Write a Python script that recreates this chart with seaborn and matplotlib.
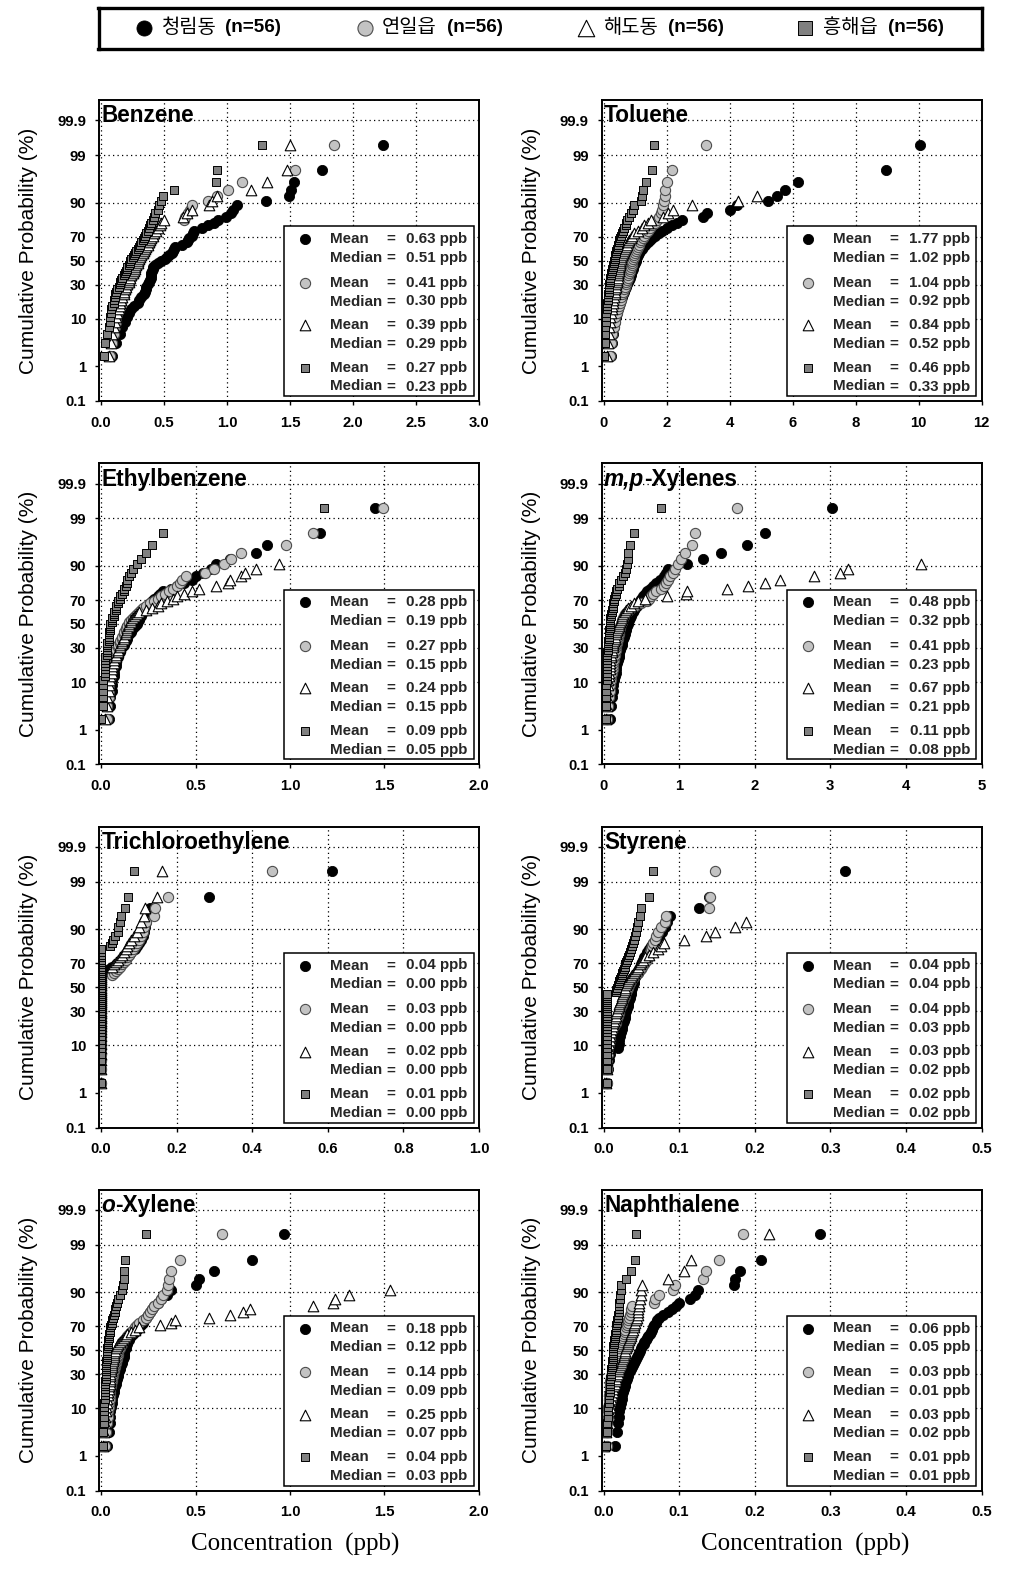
import numpy as np
import matplotlib
matplotlib.use("Agg")
import matplotlib.pyplot as plt
import matplotlib.transforms as mtransforms
from matplotlib.patches import Rectangle
from matplotlib.ticker import NullLocator
from matplotlib import font_manager
import seaborn as sns
from statistics import NormalDist

nan = float("nan")

# ---------------------------------------------------------------- data
SITES = ["청림동", "연일읍", "해도동", "흥해읍"]
N_LABELS = ["(n=56)", "(n=56)", "(n=56)", "(n=56)"]
N = 56

BENZENE_CHEONGNIM = [0.09,0.12,0.15,0.17,0.19,0.21,0.22,0.24,0.26,0.29,
    0.30,0.32,0.34,0.35,0.355,0.36,0.37,0.38,0.39,0.395,
    0.40,0.40,0.405,0.41,0.415,0.43,0.45,0.48,0.51,0.52,
    0.54,0.56,0.57,0.58,0.59,0.64,0.68,0.69,0.70,0.72,
    0.73,0.74,0.80,0.85,0.90,0.93,0.99,1.03,1.05,1.08,
    1.31,1.49,1.51,1.53,1.75,2.24]
BENZENE_YEONIL = [0.07,0.09,0.10,0.11,0.12,0.12,0.13,0.14,0.15,0.16,
    0.16,0.17,0.18,0.19,0.20,0.21,0.22,0.22,0.23,0.24,
    0.25,0.26,0.26,0.27,0.28,0.29,0.29,0.30,0.31,0.32,
    0.33,0.34,0.35,0.36,0.37,0.38,0.39,0.40,0.41,0.42,
    0.43,0.44,0.45,0.46,0.47,0.66,0.67,0.69,0.71,0.72,
    0.85,0.92,1.01,1.12,1.54,1.85]
BENZENE_HAEDO = [0.06,0.08,0.09,0.10,0.11,0.12,0.13,0.14,0.15,0.15,
    0.16,0.17,0.18,0.18,0.19,0.20,0.21,0.22,0.22,0.23,
    0.24,0.25,0.26,0.27,0.27,0.28,0.29,0.29,0.30,0.31,
    0.32,0.33,0.34,0.35,0.36,0.37,0.38,0.39,0.40,0.41,
    0.42,0.44,0.45,0.47,0.48,0.50,0.65,0.68,0.72,0.86,
    0.88,0.92,1.19,1.32,1.48,1.50]
BENZENE_HEUNGHAE = [0.02,0.03,0.05,0.06,0.07,0.07,0.08,0.08,0.09,0.10,
    0.10,0.11,0.11,0.12,0.13,0.14,0.15,0.15,0.16,0.17,
    0.18,0.19,0.20,0.21,0.21,0.22,0.23,0.23,0.24,0.25,
    0.26,0.27,0.28,0.29,0.30,0.31,0.32,0.33,0.34,0.35,
    0.36,0.37,0.38,0.39,0.40,0.41,0.42,0.43,0.45,0.46,
    0.48,0.49,0.58,0.91,0.92,1.28]

TOLUENE_CHEONGNIM = [0.23,0.26,0.30,0.33,0.36,0.40,0.43,0.46,0.50,0.53,
    0.56,0.60,0.63,0.66,0.69,0.72,0.75,0.78,0.80,0.83,
    0.86,0.88,0.91,0.93,0.95,0.97,1.00,1.02,1.04,1.07,
    1.10,1.13,1.17,1.21,1.26,1.32,1.40,1.48,1.55,1.65,
    1.76,1.86,2.02,2.18,2.34,2.49,3.15,3.30,4.02,4.25,
    5.23,5.50,5.75,6.19,8.96,10.04]
TOLUENE_YEONIL = [0.20,0.23,0.28,0.32,0.35,0.38,0.42,0.45,0.48,0.51,
    0.54,0.57,0.60,0.63,0.66,0.69,0.71,0.73,0.75,0.77,
    0.79,0.81,0.83,0.85,0.87,0.89,0.91,0.92,0.94,0.96,
    0.98,1.00,1.03,1.06,1.09,1.12,1.16,1.20,1.25,1.30,
    1.36,1.42,1.48,1.55,1.62,1.70,1.76,1.81,1.86,1.89,
    1.92,1.94,1.95,2.02,2.16,3.26]
TOLUENE_HAEDO = [0.10,0.13,0.16,0.18,0.20,0.22,0.24,0.26,0.28,0.30,
    0.31,0.33,0.35,0.36,0.38,0.39,0.41,0.42,0.44,0.45,
    0.46,0.47,0.48,0.49,0.50,0.51,0.52,0.53,0.55,0.57,
    0.59,0.61,0.64,0.67,0.70,0.74,0.78,0.82,0.87,0.92,
    0.98,1.10,1.22,1.30,1.42,1.50,1.90,2.04,2.20,2.81,
    4.26,4.88,nan,nan,nan,nan]
TOLUENE_HEUNGHAE = [0.03,0.04,0.05,0.06,0.07,0.08,0.09,0.10,0.11,0.12,
    0.13,0.14,0.15,0.16,0.17,0.18,0.19,0.20,0.21,0.22,
    0.24,0.25,0.26,0.27,0.29,0.30,0.32,0.33,0.35,0.36,
    0.38,0.40,0.41,0.43,0.45,0.46,0.48,0.50,0.52,0.55,
    0.58,0.62,0.66,0.70,0.72,0.75,0.80,0.87,0.93,0.96,
    1.19,1.22,1.24,1.35,1.54,1.61]

ETHYL_CHEONGNIM = [0.04,0.05,0.05,0.06,0.06,0.06,0.07,0.07,0.07,0.08,
    0.08,0.08,0.09,0.09,0.10,0.10,0.11,0.12,0.12,0.13,
    0.14,0.14,0.15,0.16,0.16,0.17,0.18,0.19,0.19,0.20,
    0.20,0.21,0.21,0.22,0.23,0.24,0.25,0.26,0.27,0.28,
    0.30,0.31,0.33,0.37,0.40,0.44,0.48,0.50,0.54,0.58,
    0.61,0.68,0.82,0.88,1.16,1.45]
ETHYL_YEONIL = [0.03,0.03,0.04,0.04,0.04,0.05,0.05,0.05,0.06,0.06,
    0.06,0.07,0.07,0.07,0.08,0.08,0.09,0.09,0.10,0.10,
    0.11,0.11,0.12,0.12,0.13,0.13,0.14,0.15,0.15,0.16,
    0.17,0.18,0.19,0.20,0.21,0.22,0.24,0.26,0.28,0.30,
    0.32,0.34,0.36,0.38,0.40,0.42,0.43,0.45,0.55,0.60,
    0.65,0.69,0.74,0.98,1.12,1.49]
ETHYL_HAEDO = [0.02,0.03,0.03,0.04,0.04,0.05,0.05,0.06,0.06,0.06,
    0.07,0.07,0.08,0.08,0.09,0.09,0.10,0.10,0.11,0.11,
    0.12,0.12,0.13,0.13,0.14,0.14,0.15,0.15,0.16,0.16,
    0.17,0.18,0.19,0.20,0.24,0.27,0.30,0.32,0.35,0.38,
    0.40,0.44,0.48,0.52,0.61,0.67,0.68,0.74,0.76,0.82,
    0.94,nan,nan,nan,nan,nan]
ETHYL_HEUNGHAE = [0.00,0.01,0.01,0.01,0.01,0.01,0.02,0.02,0.02,0.02,
    0.02,0.02,0.02,0.03,0.03,0.03,0.03,0.03,0.03,0.04,
    0.04,0.04,0.04,0.04,0.05,0.05,0.05,0.05,0.06,0.06,
    0.06,0.07,0.07,0.07,0.08,0.08,0.08,0.09,0.09,0.10,
    0.10,0.11,0.12,0.12,0.13,0.14,0.14,0.15,0.16,0.17,
    0.19,0.21,0.24,0.27,0.33,1.18]

MPX_CHEONGNIM = [0.09,0.10,0.11,0.12,0.13,0.14,0.15,0.16,0.17,0.17,
    0.18,0.19,0.20,0.21,0.21,0.22,0.23,0.24,0.25,0.25,
    0.26,0.27,0.28,0.29,0.30,0.30,0.31,0.32,0.33,0.34,
    0.35,0.36,0.37,0.39,0.40,0.42,0.44,0.46,0.48,0.50,
    0.52,0.55,0.58,0.62,0.66,0.70,0.75,0.80,0.83,0.85,
    1.11,1.32,1.56,1.90,2.13,3.02]
MPX_YEONIL = [0.05,0.06,0.07,0.08,0.09,0.10,0.10,0.11,0.12,0.12,
    0.13,0.14,0.14,0.15,0.15,0.16,0.16,0.17,0.18,0.18,
    0.19,0.19,0.20,0.21,0.21,0.22,0.22,0.23,0.24,0.25,
    0.26,0.27,0.29,0.31,0.34,0.37,0.42,0.50,0.58,0.60,
    0.63,0.66,0.70,0.76,0.80,0.83,0.85,0.88,0.92,0.95,
    0.99,1.03,1.08,1.17,1.21,1.76]
MPX_HAEDO = [0.03,0.04,0.05,0.05,0.06,0.06,0.07,0.07,0.08,0.08,
    0.09,0.09,0.10,0.10,0.11,0.11,0.12,0.13,0.13,0.14,
    0.15,0.15,0.16,0.17,0.18,0.19,0.20,0.21,0.22,0.23,
    0.24,0.25,0.26,0.28,0.30,0.33,0.36,0.40,0.45,0.55,
    0.84,1.09,1.10,1.63,1.91,2.14,2.34,2.79,3.13,3.24,
    4.20,nan,nan,nan,nan,nan]
MPX_HEUNGHAE = [0.03,0.03,0.03,0.03,0.03,0.04,0.04,0.04,0.04,0.04,
    0.05,0.05,0.05,0.05,0.05,0.06,0.06,0.06,0.06,0.06,
    0.07,0.07,0.07,0.07,0.07,0.08,0.08,0.08,0.08,0.09,
    0.09,0.10,0.10,0.11,0.11,0.12,0.12,0.13,0.14,0.14,
    0.15,0.16,0.17,0.18,0.20,0.21,0.23,0.26,0.28,0.30,
    0.31,0.32,0.33,0.35,0.41,0.76]

TCE_CHEONGNIM = [0.0,0.0,0.0,0.0,0.0,0.0,0.0,0.0,0.0,0.0,
    0.0,0.0,0.0,0.0,0.0,0.0,0.0,0.0,0.0,0.0,
    0.0,0.0,0.0,0.0,0.0,0.0,0.0,0.0,0.0,0.0,
    0.0,0.0,0.0,0.0,0.0,0.01,0.02,0.03,0.04,0.05,
    0.06,0.07,0.075,0.08,0.09,0.095,0.10,0.105,0.11,0.113,
    0.117,0.12,0.125,0.13,0.286,0.61]
TCE_YEONIL = [0.0,0.0,0.0,0.0,0.0,0.0,0.0,0.0,0.0,0.0,
    0.0,0.0,0.0,0.0,0.0,0.0,0.0,0.0,0.0,0.0,
    0.0,0.0,0.0,0.0,0.0,0.0,0.0,0.0,0.0,0.0,
    0.0,0.0,0.0,0.03,0.035,0.04,0.045,0.05,0.055,0.06,
    0.065,0.07,0.075,0.08,0.085,0.09,0.095,0.10,0.105,0.11,
    0.115,0.12,0.14,0.144,0.178,0.453]
TCE_HAEDO = [0.0,0.0,0.0,0.0,0.0,0.0,0.0,0.0,0.0,0.0,
    0.0,0.0,0.0,0.0,0.0,0.0,0.0,0.0,0.0,0.0,
    0.0,0.0,0.0,0.0,0.0,0.0,0.0,0.0,0.0,0.0,
    0.0,0.0,0.0,0.0,0.0,0.0,0.0,0.03,0.035,0.04,
    0.045,0.05,0.055,0.06,0.065,0.07,0.075,0.08,0.088,0.095,
    0.10,0.106,0.113,0.116,0.148,0.162]
TCE_HEUNGHAE = [0.0,0.0,0.0,0.0,0.0,0.0,0.0,0.0,0.0,0.0,
    0.0,0.0,0.0,0.0,0.0,0.0,0.0,0.0,0.0,0.0,
    0.0,0.0,0.0,0.0,0.0,0.0,0.0,0.0,0.0,0.0,
    0.0,0.0,0.0,0.0,0.0,0.0,0.0,0.0,0.0,0.0,
    0.0,0.0,0.0,0.0,0.0,0.024,0.028,0.033,0.037,0.044,
    0.046,0.05,0.053,0.064,0.071,0.086]

STYRENE_CHEONGNIM = [0.005,0.006,0.007,0.008,0.019,0.020,0.021,0.022,0.023,0.025,
    0.025,0.026,0.027,0.028,0.028,0.029,0.030,0.031,0.032,0.033,
    0.033,0.034,0.035,0.035,0.036,0.037,0.037,0.038,0.039,0.040,
    0.041,0.041,0.042,0.043,0.045,0.046,0.047,0.048,0.049,0.051,
    0.052,0.054,0.056,0.058,0.060,0.063,0.066,0.070,0.074,0.077,
    0.081,0.084,0.088,0.126,0.140,0.32]
STYRENE_YEONIL = [0.004,0.005,0.005,0.006,0.006,0.007,0.008,0.009,0.010,0.012,
    0.014,0.016,0.017,0.018,0.019,0.020,0.021,0.022,0.023,0.024,
    0.025,0.026,0.027,0.028,0.029,0.030,0.031,0.032,0.034,0.035,
    0.037,0.038,0.040,0.042,0.045,0.047,0.049,0.051,0.053,0.055,
    0.057,0.059,0.060,0.062,0.063,0.064,0.066,0.068,0.070,0.072,
    0.076,0.081,0.083,0.140,0.141,0.147]
STYRENE_HAEDO = [0.003,0.004,0.005,0.005,0.006,0.007,0.008,0.009,0.010,0.011,
    0.012,0.013,0.014,0.015,0.016,0.017,0.018,0.019,0.020,0.021,
    0.022,0.023,0.024,0.025,0.026,0.027,0.028,0.029,0.030,0.031,
    0.032,0.034,0.036,0.038,0.040,0.042,0.044,0.046,0.048,0.050,
    0.052,0.055,0.060,0.066,0.072,0.076,0.080,0.107,0.135,0.147,
    0.174,0.188,nan,nan,nan,nan]
STYRENE_HEUNGHAE = [0.004,0.005,0.005,0.005,0.005,0.005,0.005,0.005,0.005,0.005,
    0.005,0.005,0.005,0.005,0.005,0.005,0.005,0.005,0.005,0.005,
    0.005,0.005,0.005,0.005,0.005,0.016,0.017,0.018,0.019,0.020,
    0.021,0.022,0.023,0.024,0.025,0.026,0.027,0.028,0.029,0.030,
    0.031,0.032,0.034,0.035,0.036,0.038,0.039,0.041,0.042,0.043,
    0.044,0.045,0.048,0.050,0.060,0.065]

OXY_CHEONGNIM = [0.03,0.04,0.045,0.05,0.05,0.055,0.06,0.06,0.065,0.07,
    0.07,0.075,0.08,0.08,0.085,0.09,0.09,0.095,0.10,0.10,
    0.105,0.11,0.11,0.115,0.12,0.12,0.12,0.12,0.13,0.13,
    0.14,0.14,0.15,0.15,0.16,0.17,0.18,0.19,0.20,0.21,
    0.22,0.23,0.24,0.25,0.26,0.27,0.28,0.30,0.32,0.35,
    0.37,0.50,0.52,0.60,0.80,0.97]
OXY_YEONIL = [0.02,0.025,0.03,0.035,0.035,0.04,0.04,0.045,0.045,0.05,
    0.05,0.055,0.055,0.06,0.06,0.065,0.065,0.07,0.07,0.075,
    0.075,0.08,0.08,0.085,0.085,0.09,0.09,0.09,0.10,0.10,
    0.11,0.11,0.12,0.13,0.14,0.15,0.16,0.17,0.18,0.19,
    0.20,0.22,0.24,0.25,0.26,0.27,0.28,0.30,0.32,0.33,
    0.35,0.355,0.36,0.37,0.42,0.64]
OXY_HAEDO = [0.01,0.015,0.02,0.02,0.025,0.025,0.03,0.03,0.035,0.035,
    0.04,0.04,0.045,0.045,0.05,0.05,0.05,0.055,0.055,0.06,
    0.06,0.06,0.065,0.065,0.07,0.07,0.07,0.075,0.08,0.085,
    0.09,0.10,0.11,0.12,0.13,0.14,0.16,0.18,0.20,0.31,
    0.37,0.39,0.57,0.68,0.75,0.79,1.12,1.23,1.24,1.31,
    1.53,nan,nan,nan,nan,nan]
OXY_HEUNGHAE = [0.01,0.012,0.014,0.015,0.016,0.017,0.018,0.019,0.02,0.02,
    0.021,0.022,0.022,0.023,0.024,0.024,0.025,0.026,0.026,0.027,
    0.028,0.028,0.029,0.03,0.03,0.031,0.032,0.033,0.034,0.035,
    0.036,0.037,0.038,0.04,0.042,0.044,0.046,0.048,0.05,0.053,
    0.056,0.06,0.064,0.068,0.072,0.076,0.08,0.084,0.092,0.10,
    0.11,0.114,0.123,0.124,0.128,0.238]

NAPH_CHEONGNIM = [0.015,0.018,0.019,0.020,0.021,0.022,0.023,0.024,0.025,0.026,
    0.027,0.028,0.029,0.030,0.031,0.032,0.033,0.035,0.036,0.038,
    0.039,0.040,0.042,0.043,0.044,0.046,0.047,0.048,0.050,0.051,
    0.053,0.054,0.056,0.058,0.059,0.061,0.063,0.064,0.066,0.067,
    0.069,0.071,0.073,0.079,0.085,0.090,0.096,0.100,0.114,0.121,
    0.125,0.172,0.174,0.181,0.208,0.286]
NAPH_YEONIL = [0.004,0.005,0.005,0.006,0.006,0.006,0.007,0.007,0.007,0.008,
    0.008,0.008,0.009,0.009,0.010,0.010,0.011,0.011,0.012,0.013,
    0.014,0.015,0.016,0.016,0.017,0.018,0.019,0.020,0.021,0.021,
    0.022,0.023,0.024,0.025,0.026,0.027,0.028,0.029,0.030,0.031,
    0.032,0.033,0.034,0.035,0.036,0.037,0.038,0.067,0.068,0.074,
    0.092,0.095,0.132,0.135,0.153,0.184]
NAPH_HAEDO = [0.000,0.003,0.005,0.006,0.007,0.008,0.009,0.010,0.011,0.012,
    0.013,0.014,0.015,0.016,0.017,0.018,0.019,0.020,0.021,0.022,
    0.023,0.024,0.025,0.026,0.027,0.027,0.028,0.029,0.030,0.031,
    0.032,0.033,0.034,0.035,0.036,0.037,0.038,0.039,0.040,0.041,
    0.042,0.043,0.044,0.045,0.046,0.046,0.047,0.047,0.048,0.049,
    0.050,0.051,0.085,0.107,0.116,0.219]
NAPH_HEUNGHAE = [0.003,0.005,0.005,0.006,0.006,0.006,0.007,0.007,0.007,0.008,
    0.008,0.008,0.009,0.009,0.009,0.010,0.010,0.010,0.010,0.011,
    0.011,0.011,0.011,0.012,0.012,0.012,0.012,0.013,0.013,0.013,
    0.014,0.014,0.014,0.015,0.015,0.015,0.016,0.016,0.017,0.017,
    0.018,0.018,0.019,0.019,0.020,0.020,0.021,0.021,0.022,0.022,
    0.023,0.023,0.030,0.037,0.042,0.043]

# stated summary statistics (as printed in the panel boxes)
BENZENE_MEAN, BENZENE_MEDIAN = [0.63, 0.41, 0.39, 0.27], [0.51, 0.30, 0.29, 0.23]
TOLUENE_MEAN, TOLUENE_MEDIAN = [1.77, 1.04, 0.84, 0.46], [1.02, 0.92, 0.52, 0.33]
ETHYL_MEAN, ETHYL_MEDIAN = [0.28, 0.27, 0.24, 0.09], [0.19, 0.15, 0.15, 0.05]
MPX_MEAN, MPX_MEDIAN = [0.48, 0.41, 0.67, 0.11], [0.32, 0.23, 0.21, 0.08]
TCE_MEAN, TCE_MEDIAN = [0.04, 0.03, 0.02, 0.01], [0.00, 0.00, 0.00, 0.00]
STYRENE_MEAN, STYRENE_MEDIAN = [0.04, 0.04, 0.03, 0.02], [0.04, 0.03, 0.02, 0.02]
OXY_MEAN, OXY_MEDIAN = [0.18, 0.14, 0.25, 0.04], [0.12, 0.09, 0.07, 0.03]
NAPH_MEAN, NAPH_MEDIAN = [0.06, 0.03, 0.03, 0.01], [0.05, 0.01, 0.02, 0.01]

TITLES = ["Benzene", "Toluene", "Ethylbenzene", "*m,p*-Xylenes",
          "Trichloroethylene", "Styrene", "*o*-Xylene", "Naphthalene"]
XTICKS = [
    [0.0, 0.5, 1.0, 1.5, 2.0, 2.5, 3.0],
    [0, 2, 4, 6, 8, 10, 12],
    [0.0, 0.5, 1.0, 1.5, 2.0],
    [0, 1, 2, 3, 4, 5],
    [0.0, 0.2, 0.4, 0.6, 0.8, 1.0],
    [0.0, 0.1, 0.2, 0.3, 0.4, 0.5],
    [0.0, 0.5, 1.0, 1.5, 2.0],
    [0.0, 0.1, 0.2, 0.3, 0.4, 0.5],
]
XTICK_FMT = ["{:.1f}", "{:.0f}", "{:.1f}", "{:.0f}", "{:.1f}", "{:.1f}", "{:.1f}", "{:.1f}"]
YTICKS = [0.1, 1, 10, 30, 50, 70, 90, 99, 99.9]
YTICK_LABELS = ["0.1", "1", "10", "30", "50", "70", "90", "99", "99.9"]
YGRID = [10, 30, 50, 70, 90, 99, 99.9]

SERIES = [
    [BENZENE_CHEONGNIM, BENZENE_YEONIL, BENZENE_HAEDO, BENZENE_HEUNGHAE],
    [TOLUENE_CHEONGNIM, TOLUENE_YEONIL, TOLUENE_HAEDO, TOLUENE_HEUNGHAE],
    [ETHYL_CHEONGNIM, ETHYL_YEONIL, ETHYL_HAEDO, ETHYL_HEUNGHAE],
    [MPX_CHEONGNIM, MPX_YEONIL, MPX_HAEDO, MPX_HEUNGHAE],
    [TCE_CHEONGNIM, TCE_YEONIL, TCE_HAEDO, TCE_HEUNGHAE],
    [STYRENE_CHEONGNIM, STYRENE_YEONIL, STYRENE_HAEDO, STYRENE_HEUNGHAE],
    [OXY_CHEONGNIM, OXY_YEONIL, OXY_HAEDO, OXY_HEUNGHAE],
    [NAPH_CHEONGNIM, NAPH_YEONIL, NAPH_HAEDO, NAPH_HEUNGHAE],
]
MEANS = [BENZENE_MEAN, TOLUENE_MEAN, ETHYL_MEAN, MPX_MEAN, TCE_MEAN, STYRENE_MEAN, OXY_MEAN, NAPH_MEAN]
MEDIANS = [BENZENE_MEDIAN, TOLUENE_MEDIAN, ETHYL_MEDIAN, MPX_MEDIAN, TCE_MEDIAN, STYRENE_MEDIAN, OXY_MEDIAN, NAPH_MEDIAN]

# cumulative probability (plotting position, %) for rank i of n
RANK = np.arange(1, N + 1)
PROB = 100.0 * RANK / (N + 0.3)

# ---------------------------------------------------------------- style
sns.set_theme(style="white")
plt.rcParams["font.family"] = ["Liberation Sans", "DejaVu Sans"]
plt.rcParams["axes.unicode_minus"] = False

available = {f.name for f in font_manager.fontManager.ttflist}
if "Liberation Sans Narrow" in available:
    NARROW_FAM, NARROW_SIZE = ["Liberation Sans Narrow", "Liberation Sans"], 16
else:
    NARROW_FAM, NARROW_SIZE = ["Liberation Sans", "DejaVu Sans"], 13.6
KOR_FAM = ["Noto Sans CJK KR", "DejaVu Sans"]

MARKERS = [
    dict(marker="o", s=54, color="black", edgecolor="black", linewidth=0.6),
    dict(marker="o", s=54, color="#c3c3c3", edgecolor="#4d4d4d", linewidth=0.8),
    dict(marker="^", s=58, color="white", edgecolor="black", linewidth=0.8),
    dict(marker="s", s=40, color="#808080", edgecolor="black", linewidth=0.7),
]

_nd = NormalDist()
_ppf = np.vectorize(_nd.inv_cdf, otypes=[float])
_cdf = np.vectorize(_nd.cdf, otypes=[float])


def prob_forward(p):
    p = np.clip(np.asarray(p, dtype=float), 1e-5, 100 - 1e-5)
    return _ppf(p / 100.0)


def prob_inverse(z):
    return _cdf(np.asarray(z, dtype=float)) * 100.0


W, H = 1015, 1577
fig = plt.figure(figsize=(W / 100, H / 100), dpi=100)

AX_W, AX_H = 380.0, 301.0
COL_LEFT = [99.0, 601.5]
ROW_TOP = [100.0, 463.2, 826.5, 1189.5]


def px_axes(ax, px, py):
    return px / AX_W, 1 - py / AX_H


for k in range(8):
    r, c = divmod(k, 2)
    L, T = COL_LEFT[c], ROW_TOP[r]
    ax = fig.add_axes([L / W, 1 - (T + AX_H) / H, AX_W / W, AX_H / H])
    ax.set_facecolor("white")

    for j, (vals, st) in enumerate(zip(SERIES[k], MARKERS)):
        v = np.asarray(vals, dtype=float)
        m = ~np.isnan(v)
        sns.scatterplot(x=v[m], y=PROB[m], ax=ax, legend=False, zorder=3 + j, clip_on=True, **st)

    ax.set_yscale("function", functions=(prob_forward, prob_inverse))
    ax.set_ylim(0.1, 99.98)
    xt = XTICKS[k]
    xmax = xt[-1]
    ax.set_xlim(-xmax * 2.0 / 378.0, xmax)
    ax.set_yticks(YTICKS)
    ax.set_yticklabels(YTICK_LABELS, fontweight="bold", fontsize=10.7)
    ax.yaxis.set_minor_locator(NullLocator())
    ax.set_xticks(xt)
    ax.set_xticklabels([XTICK_FMT[k].format(t) for t in xt], fontweight="bold", fontsize=10.7)
    ax.tick_params(axis="y", direction="out", length=3, width=1, pad=6.2, colors="black", left=True)
    ax.tick_params(axis="x", direction="out", length=3, width=1, pad=7.5, colors="black", bottom=True)
    ax.set_xlabel("")
    ax.set_ylabel("")
    for sp in ax.spines.values():
        sp.set_visible(True)
        sp.set_color("black")
        sp.set_linewidth(1.4)
        sp.set_zorder(20)

    dot = (0, (1, 2.6))
    for y in YGRID:
        ax.axhline(y, color="black", lw=0.9, ls=dot, zorder=1)
    for x in xt:
        ax.axvline(x, color="black", lw=0.9, ls=dot, zorder=1)

    # title (with italic prefix where marked)
    title = TITLES[k]
    if title.startswith("*"):
        _, it, rest = title.split("*")
        parts = [(it, "italic"), (rest, "normal")]
    else:
        parts = [(title, "normal")]
    tr = mtransforms.offset_copy(ax.transAxes, fig=fig, x=2.5, y=-4.5, units="dots")
    t = ax.text(0, 1, parts[0][0], transform=tr, ha="left", va="top", fontsize=16.3,
                fontweight="bold", style=parts[0][1], color="black", zorder=25)
    for txt, sty in parts[1:]:
        t = ax.annotate(txt, xy=(1, 0), xycoords=t, ha="left", va="bottom", fontsize=16.3,
                        fontweight="bold", style=sty, color="black", zorder=25)

    # stats box
    bx0, bx1, by0, by1 = 185.0, 374.5, 126.5, 296.0
    x0, y1 = px_axes(ax, bx0, by0)
    x1, y0 = px_axes(ax, bx1, by1)
    ax.add_patch(Rectangle((x0, y0), x1 - x0, y1 - y0, transform=ax.transAxes,
                           facecolor="white", edgecolor="black", lw=1.1, zorder=30, clip_on=False))
    mean_rows = [139.0, 182.7, 225.0, 267.7]
    for j in range(4):
        ym = mean_rows[j]
        yd = ym + 18.8
        mx, my = px_axes(ax, 206, ym)
        st = dict(MARKERS[j])
        ax.scatter([mx], [my], transform=ax.transAxes, zorder=31, clip_on=False, **st)
        for lab, yy, val in (("Mean", ym, MEANS[k][j]), ("Median", yd, MEDIANS[k][j])):
            tx, ty = px_axes(ax, 231, yy)
            ax.text(tx, ty, lab, transform=ax.transAxes, ha="left", va="center",
                    fontsize=10.9, fontweight="bold", zorder=32)
            ex, _ = px_axes(ax, 292, yy)
            ax.text(ex, ty, "=", transform=ax.transAxes, ha="center", va="center",
                    fontsize=10.9, fontweight="bold", zorder=32)
            vx, _ = px_axes(ax, 368.5, yy)
            ax.text(vx, ty, f"{val:.2f} ppb", transform=ax.transAxes, ha="right", va="center",
                    fontsize=10.9, fontweight="bold", zorder=32)

    # y label
    fig.text((L - 70) / W, 1 - (T + AX_H / 2) / H, "Cumulative Probability (%)",
             rotation=90, ha="center", va="center", fontsize=15, color="black")

# x labels
for cx in (295.0, 805.0):
    fig.text(cx / W, 1 - 1544 / H, "Concentration  (ppb)", ha="center", va="center",
             fontsize=18, family=["Liberation Serif", "DejaVu Serif"], color="black")

# top legend box
lax = fig.add_axes([98.5 / W, 1 - 48.5 / H, (982 - 98.5) / W, (48.5 - 8.0) / H])
lax.set_xlim(98.5, 982)
lax.set_ylim(48.5, 8.0)
lax.set_xticks([])
lax.set_yticks([])
lax.set_facecolor("white")
for sp in lax.spines.values():
    sp.set_visible(True)
    sp.set_color("black")
    sp.set_linewidth(2.4)

LEG_MARK_X = [144, 365, 585.5, 805]
LEG_TEXT_X = [162, 382, 603, 823]
LEG_N_X = [225, 447, 668, 888]
LEG_SIZES = [118, 118, 140, 112]
for j in range(4):
    st = dict(MARKERS[j])
    st["s"] = LEG_SIZES[j]
    lax.scatter([LEG_MARK_X[j]], [28], clip_on=False, zorder=5, **st)
    lax.text(LEG_TEXT_X[j], 27.5, SITES[j], ha="left", va="center", fontsize=14.3,
             family=KOR_FAM, color="black")
    lax.text(LEG_N_X[j], 27.5, N_LABELS[j], ha="left", va="center", fontsize=NARROW_SIZE,
             family=NARROW_FAM, fontweight="bold", color="black")

fig.savefig("out.png", dpi=100, facecolor="white")
